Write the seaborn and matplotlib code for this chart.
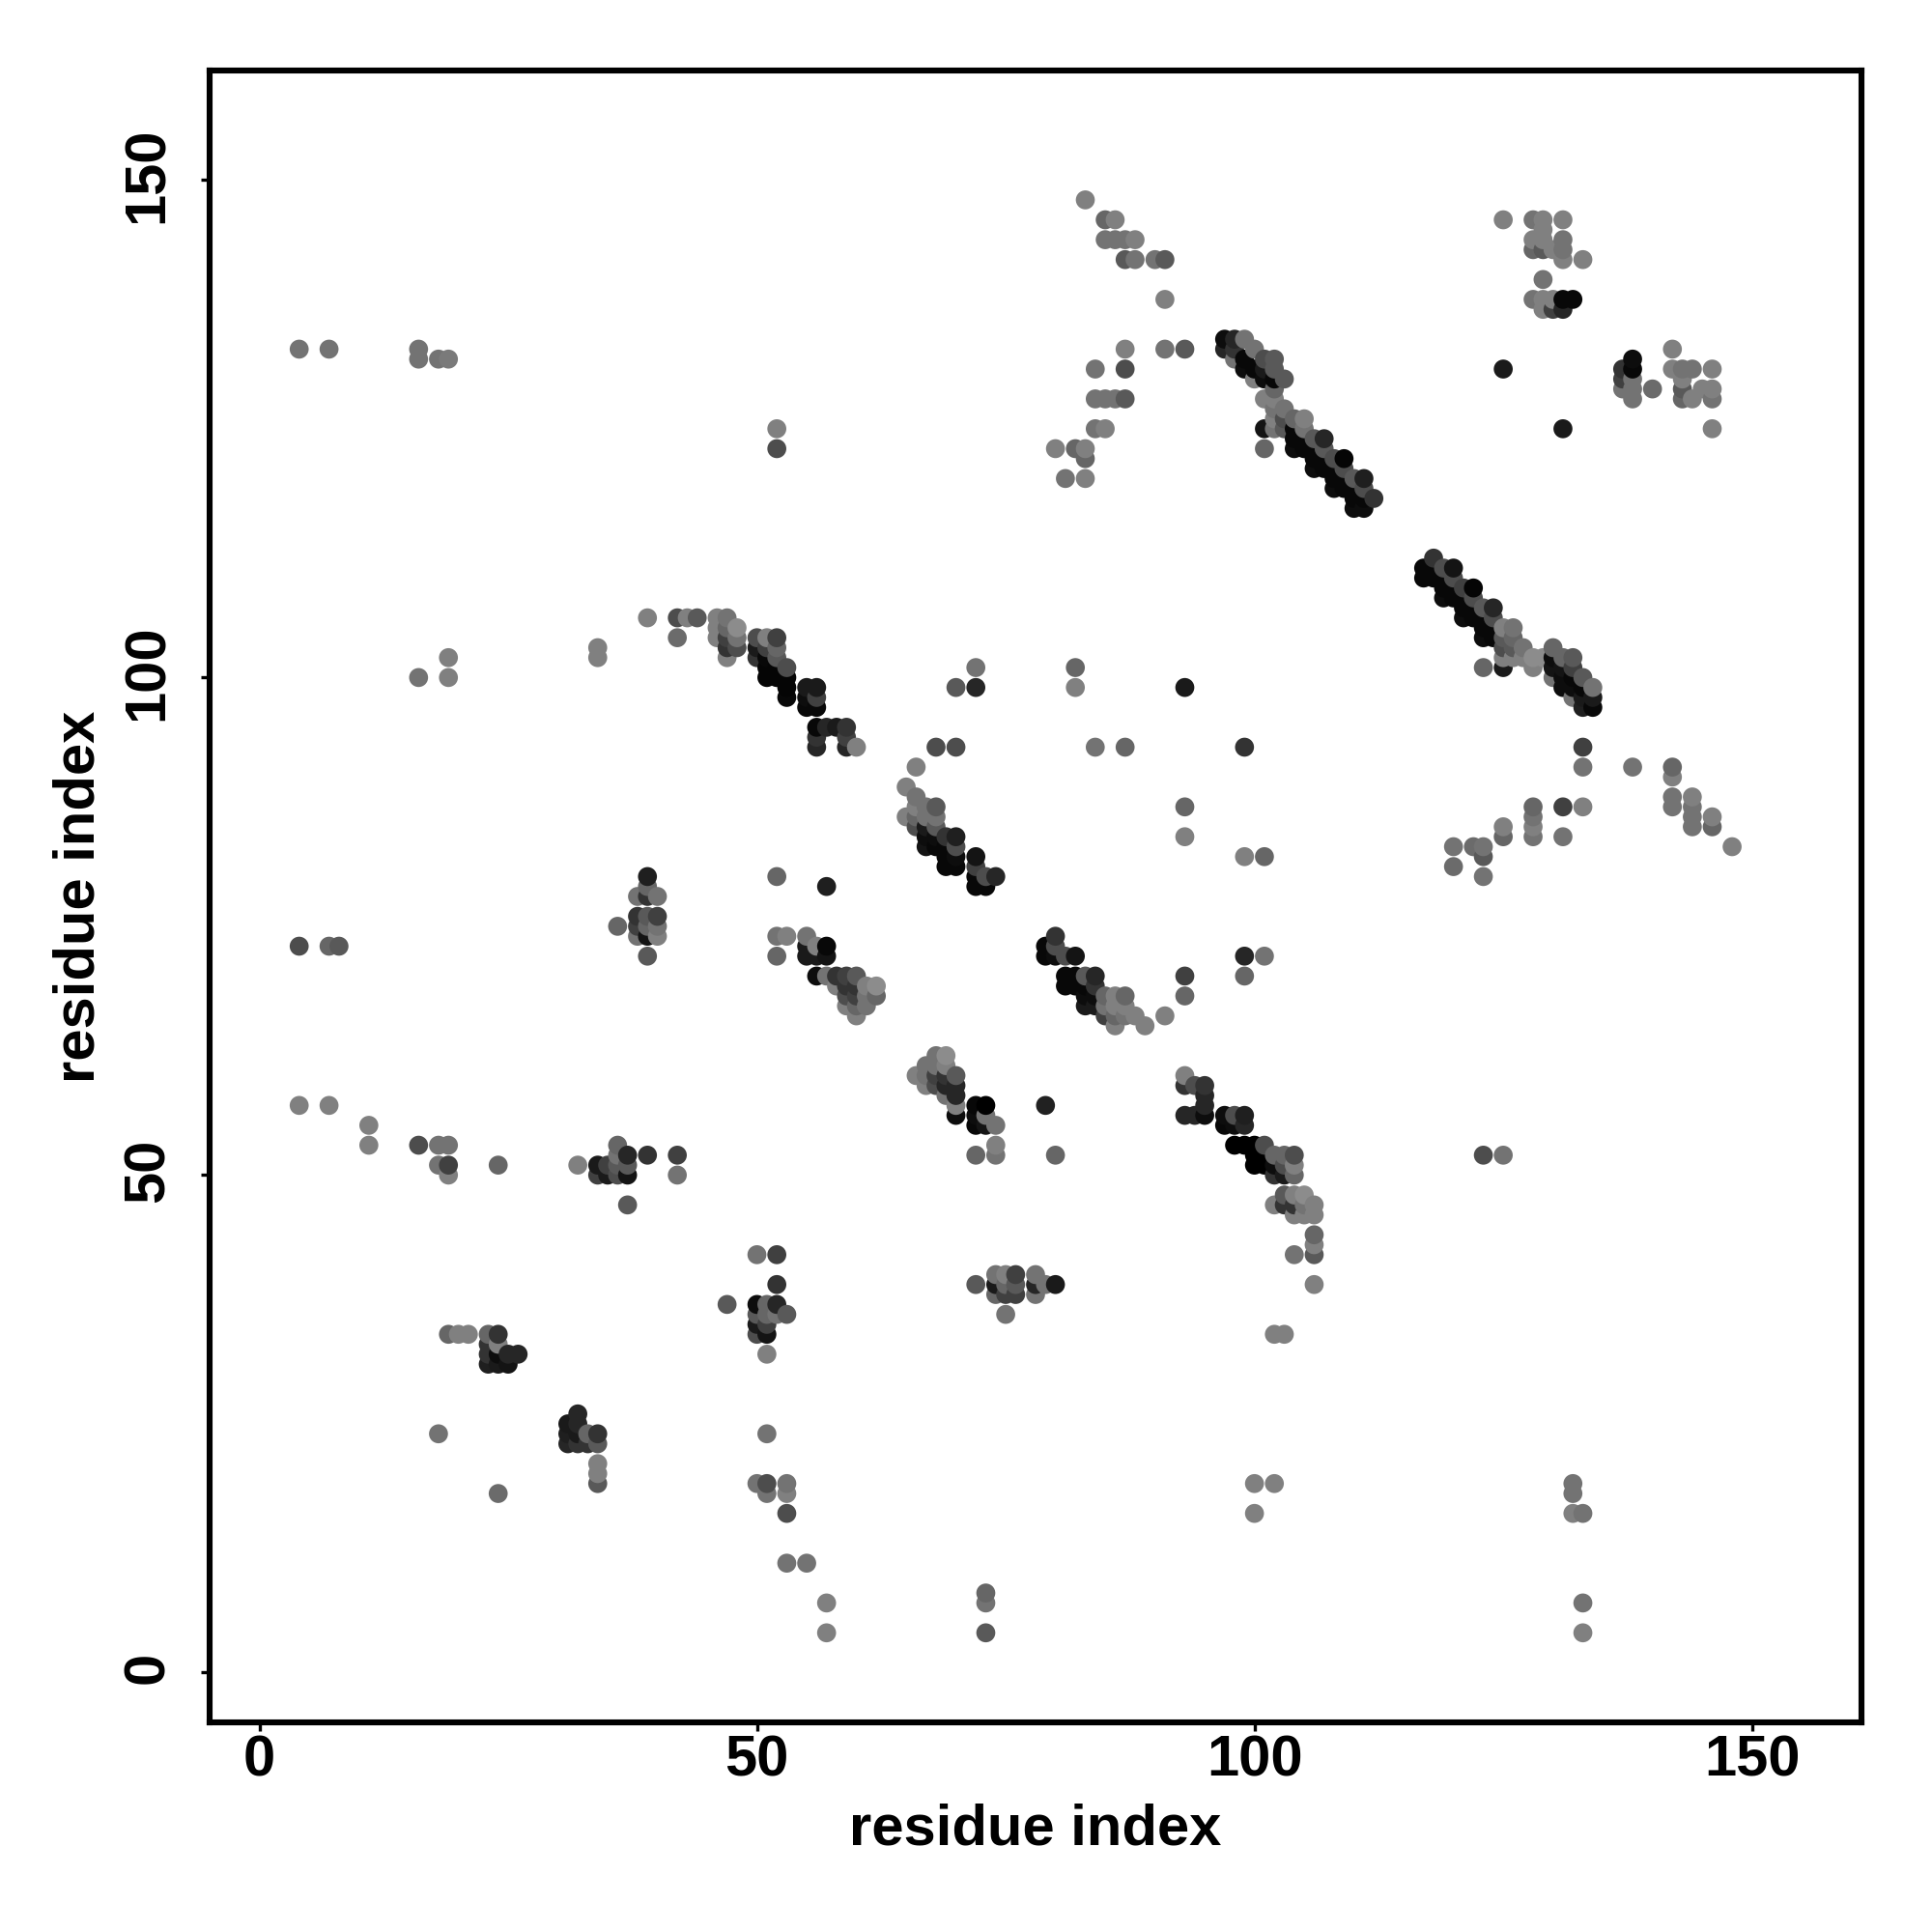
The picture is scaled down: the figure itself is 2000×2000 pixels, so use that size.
import matplotlib
matplotlib.use("Agg")
import matplotlib.pyplot as plt
from matplotlib.transforms import ScaledTranslation
import pandas as pd
import seaborn as sns

# (residue i, residue j, shade)
low_left = [
 (4,133,.45),(7,133,.45),(16,133,.45),(16,132,.45),(18,132,.45),(19,132,.48),
 (4,73,.3),(7,73,.4),(8,73,.35),(4,57,.5),(7,57,.5),(11,55,.5),(11,53,.5),
 (16,53,.3),(18,53,.45),(19,53,.45),(18,51,.45),(19,51,.25),(19,50,.5),(24,51,.4),
 (16,100,.45),(19,102,.5),(19,100,.5),
 (19,34,.4),(20,34,.5),(21,34,.5),(23,34,.4),(24,34,.2),(23,33,.2),(24,33,.5),
 (23,32,.2),(24,32,.05),(25,32,.15),(26,32,.15),(23,31,.12),(24,31,.1),(25,31,.08),
 (18,24,.45),(24,18,.42),
 (32,26,.15),(31,25,.1),(32,25,.15),(31,24,.12),(32,24,.1),(33,24,.4),(34,24,.2),
 (31,23,.15),(32,23,.2),(33,23,.2),(34,23,.35),(34,21,.5),(34,20,.5),(34,19,.35),
]
cluster_50 = [
 (32,51,.5),(34,51,.1),(35,51,.25),(36,53,.4),(36,52,.45),(37,52,.15),(36,51,.35),(37,51,.35),
 (34,50,.25),(35,50,.1),(36,50,.3),(37,50,.08),(39,52,.2),(42,52,.25),(42,50,.45),(37,47,.35),
 (39,80,.12),(39,79,.4),(38,78,.45),(39,78,.2),(40,78,.45),(38,76,.2),(39,76,.35),(40,76,.25),
 (38,75,.25),(39,75,.4),(40,75,.45),(36,75,.4),(38,74,.45),(39,74,.08),(40,74,.5),(39,72,.35),
 (50,42,.45),(52,42,.25),(52,39,.2),(47,37,.35),(50,37,.05),(51,37,.4),(52,37,.15),
 (50,36,.35),(51,36,.4),(52,36,.45),(53,36,.35),(50,35,.1),(51,35,.25),(50,34,.3),(51,34,.08),(51,32,.5),
 (51,24,.45),(50,19,.45),(51,19,.3),(51,18,.45),(53,19,.45),(53,18,.5),(53,16,.3),(53,11,.45),
 (55,11,.45),(57,7,.5),(57,4,.5),(73,8,.4),(73,7,.45),(73,4,.35),
 (100,19,.5),(102,19,.5),(100,16,.5),(132,19,.45),(132,18,.45),(132,16,.5),(133,16,.45),(133,7,.45),(133,4,.5),
]
strand_105 = [
 (34,103,.5),(34,102,.5),(39,106,.5),(42,106,.3),(43,106,.5),(44,106,.35),(42,104,.42),
 (46,106,.5),(47,106,.45),(46,105,.5),(46,104,.5),(47,105,.4),(47,104,.25),(47,103,.2),(47,102,.5),
 (48,105,.55),(48,104,.45),(48,103,.3),
 (50,104,.3),(51,104,.5),(52,104,.25),(50,103,.1),(51,103,.25),(52,103,.4),
 (50,102,.2),(51,102,.03),(52,102,.35),(51,101,.02),(52,101,.02),(53,101,.3),
 (51,100,.02),(52,100,.02),(53,100,.02),(53,99,.02),(53,98,.03),
 (55,99,.1),(56,99,.1),(55,98,.05),(56,98,.25),(55,97,.03),(56,97,.03),
 (56,95,.03),(57,95,.15),(58,95,.1),(59,95,.2),(56,94,.2),(56,93,.15),(59,94,.25),(59,93,.15),(60,93,.5),
]
strand_85 = [
 (68,93,.3),(70,93,.3),(84,93,.45),(87,93,.4),(72,101,.45),(70,99,.35),(72,99,.15),
 (82,101,.4),(82,99,.5),(66,91,.5),(65,89,.5),(66,88,.45),(68,87,.35),(67,87,.45),(66,87,.5),
 (65,86,.5),(66,86,.4),(67,86,.45),(68,86,.45),(66,85,.3),(67,85,.1),(68,85,.35),
 (67,84,.05),(68,84,.05),(69,84,.2),(70,84,.12),(67,83,.08),(68,83,.03),(69,83,.03),(70,83,.3),
 (69,82,.03),(70,82,.05),(69,81,.03),(70,81,.03),(72,82,.08),(72,81,.25),(73,80,.3),(74,80,.15),
 (72,80,.03),(72,79,.03),(73,79,.03),(52,80,.4),(57,79,.12),
]
strand_70 = [
 (52,74,.45),(53,74,.5),(55,74,.45),(52,72,.4),(55,73,.1),(56,73,.5),(57,73,.03),
 (55,72,.1),(56,72,.1),(57,72,.08),(56,70,.05),(57,70,.45),(58,70,.2),(59,70,.25),(60,70,.35),
 (58,69,.5),(59,69,.2),(60,69,.2),(61,69,.5),(62,69,.55),(59,68,.3),(60,68,.25),(61,68,.45),(62,68,.4),
 (59,67,.5),(60,67,.4),(61,67,.45),(60,66,.5),
 (80,74,.2),(79,73,.03),(80,73,.3),(79,72,.03),(80,72,.05),(81,72,.3),(82,72,.08),
 (81,70,.03),(82,70,.03),(83,70,.35),(84,70,.15),(81,69,.03),(82,69,.03),(83,69,.03),(84,69,.2),
 (83,68,.05),(84,68,.05),(85,68,.4),(86,68,.5),(87,68,.4),(83,67,.1),(84,67,.1),(85,67,.45),(86,67,.5),(87,67,.5),
 (85,66,.25),(86,66,.4),(87,66,.45),(88,66,.5),(86,65,.5),(89,65,.5),(91,66,.5),
 (93,99,.1),(93,87,.4),(93,84,.5),(93,70,.25),(93,68,.4),(99,93,.2),(99,82,.5),(101,82,.4),
 (99,72,.15),(101,72,.45),(99,70,.4),
]
strand_58 = [
 (68,62,.45),(69,62,.55),(67,61,.45),(68,61,.45),(69,61,.5),(66,60,.5),(67,60,.45),(68,60,.25),(69,60,.2),(70,60,.35),
 (67,59,.5),(68,59,.3),(69,59,.15),(70,59,.15),(69,58,.45),(70,58,.15),(70,57,.5),(70,56,.05),
 (72,57,.03),(73,57,.0),(72,56,.05),(73,56,.45),(72,55,.03),(73,55,.08),(74,55,.45),
 (72,52,.4),(74,53,.5),(74,52,.45),(79,57,.13),(80,52,.4),
 (72,39,.35),(74,40,.45),(75,40,.5),(76,40,.25),(78,40,.45),(74,39,.1),(75,39,.4),(76,39,.35),(78,39,.15),(79,39,.45),(80,39,.1),
 (74,38,.4),(75,38,.25),(76,38,.25),(78,38,.45),(75,36,.45),
 (93,60,.5),(93,59,.2),(94,59,.3),(95,59,.2),(95,58,.15),(95,57,.15),(93,56,.15),(94,56,.15),(95,56,.05),
 (97,56,.05),(98,56,.3),(99,56,.12),(97,55,.03),(98,55,.05),(99,55,.15),
 (98,53,.0),(99,53,.0),(100,53,.0),(101,53,.3),(100,52,.0),(101,52,.0),(102,52,.4),(103,52,.4),(104,52,.3),
 (100,51,.0),(101,51,.0),(102,51,.05),(103,51,.3),(104,51,.5),(102,50,.2),(103,50,.1),(104,50,.4),
 (103,48,.35),(104,48,.5),(105,48,.55),(102,47,.5),(103,47,.2),(104,47,.2),(105,47,.45),(106,47,.5),
 (104,46,.5),(105,46,.5),(106,46,.5),(106,44,.4),(106,43,.5),(104,42,.45),(106,42,.35),(106,39,.5),
 (102,34,.5),(103,34,.5),(123,52,.3),(125,52,.45),
]
strand_125 = [
 (97,134,.05),(98,134,.15),(99,134,.45),(97,133,.15),(98,133,.2),(100,133,.45),(98,132,.45),(99,132,.03),(101,132,.3),(102,132,.35),
 (99,131,.05),(100,131,.03),(101,131,.1),(102,131,.35),(103,130,.35),(100,130,.5),(101,130,.05),(102,130,.03),(102,129,.4),
 (101,128,.5),(102,128,.5),(103,127,.45),(102,127,.45),(102,126,.5),(103,126,.3),(104,126,.4),(105,126,.5),
 (101,125,.08),(102,125,.45),(103,125,.35),(104,125,.03),(105,125,.45),(101,123,.4),
 (104,124,.03),(105,124,.03),(106,124,.35),(107,124,.15),(104,123,.05),(105,123,.03),(106,123,.03),(107,123,.35),
 (106,122,.03),(107,122,.03),(108,122,.3),(109,122,.02),(106,121,.05),(107,121,.03),(108,121,.03),(109,121,.3),
 (108,120,.03),(109,120,.03),(110,120,.35),(111,120,.12),(108,119,.05),(109,119,.03),(110,119,.03),(111,119,.3),
 (110,118,.03),(111,118,.03),(112,118,.2),(110,117,.05),(111,117,.05),
 (52,125,.5),(52,123,.3),
]
strand_105_right = [
 (118,112,.2),(117,111,.03),(118,111,.03),(119,111,.3),(120,111,.08),(117,110,.03),(118,110,.03),(119,110,.03),(120,110,.3),
 (119,109,.03),(120,109,.03),(121,109,.25),(122,109,.02),(119,108,.05),(120,108,.03),(121,108,.03),(122,108,.3),
 (121,107,.03),(122,107,.03),(123,107,.35),(124,107,.15),(121,106,.05),(122,106,.03),(123,106,.03),(124,106,.3),
 (123,105,.03),(124,105,.03),(125,105,.5),(126,105,.45),(123,104,.05),(124,104,.03),(125,104,.35),(126,104,.4),
 (125,103,.3),(126,103,.35),(127,103,.45),(125,102,.5),(126,102,.5),(127,102,.5),(128,102,.55),(129,102,.55),(130,103,.4),
 (131,102,.4),(132,102,.35),(130,102,.05),(125,101,.1),(123,101,.4),(128,101,.5),(130,101,.08),(131,101,.08),(132,101,.25),
 (130,100,.45),(131,100,.05),(132,100,.03),(133,100,.35),(131,99,.05),(132,99,.05),(133,99,.03),(134,99,.45),
 (132,98,.45),(133,98,.1),(134,98,.1),(133,97,.12),(134,97,.03),
]
lower_right = [
 (133,93,.25),(133,91,.45),(138,91,.45),(142,91,.4),(142,90,.5),(142,88,.45),(142,87,.45),
 (144,88,.5),(144,87,.45),(144,86,.45),(144,85,.45),(146,86,.5),(146,85,.4),(148,83,.5),
 (128,87,.4),(128,86,.45),(128,85,.5),(128,84,.45),(131,87,.25),(133,87,.5),(131,84,.45),
 (125,85,.5),(125,84,.4),(120,83,.45),(122,83,.42),(123,83,.45),(123,82,.35),(120,81,.42),(123,80,.45),
]
upper_right = [
 (125,146,.5),(128,146,.45),(129,146,.5),(131,146,.5),(129,145,.5),(128,144,.5),(129,144,.5),(131,144,.45),
 (128,143,.4),(129,143,.35),(130,143,.5),(131,143,.45),(131,142,.5),(133,142,.5),(129,140,.45),
 (128,138,.45),(129,138,.5),(130,138,.5),(131,138,.03),(132,138,.03),(129,137,.5),(130,137,.25),(131,137,.15),
 (125,131,.1),(131,125,.1),(146,125,.5),(142,133,.5),(138,132,.05),(137,131,.2),(138,131,.03),
 (137,130,.25),(138,130,.45),(137,129,.45),(138,129,.45),(138,128,.45),(140,129,.42),
 (142,131,.5),(143,131,.45),(144,131,.45),(146,131,.5),(143,130,.5),(143,129,.35),(145,129,.5),(146,129,.5),
 (143,128,.4),(144,128,.5),(146,128,.45),
]
upper_middle = [
 (83,148,.5),(85,146,.4),(86,146,.5),(85,144,.45),(86,144,.45),(87,144,.45),(88,144,.5),(87,142,.35),(88,142,.45),
 (90,142,.45),(91,142,.35),(91,138,.5),(91,133,.45),(93,133,.35),(87,133,.5),(87,131,.3),(84,131,.45),
 (84,128,.45),(85,128,.45),(86,128,.45),(87,128,.35),(84,125,.45),(85,125,.5),(80,123,.5),(82,123,.4),(83,123,.5),
 (83,122,.4),(81,120,.45),(83,120,.5),
]
tick_positions = [0, 50, 100, 150]
axis_label = "residue index"

rows = (low_left + cluster_50 + strand_105 + strand_85 + strand_70 + strand_58
        + strand_125 + strand_105_right + lower_right + upper_right + upper_middle)
df = pd.DataFrame(rows, columns=["i", "j", "shade"]).sort_values(["i", "j"])

sns.set_theme(style="white")
plt.rcParams["font.family"] = ["Liberation Sans", "DejaVu Sans"]
fig = plt.figure(figsize=(10, 10), dpi=200)
ax = fig.add_axes([217/2000, 1-1783/2000, (1927-217)/2000, (1783-73)/2000])
sns.scatterplot(data=df, x="i", y="j", c=[str(v) for v in df["shade"]],
                s=50, linewidth=0, ax=ax, zorder=3)
ax.set_xlim(-5, 161)
ax.set_ylim(-5, 161)
ax.set_xticks(tick_positions)
ax.set_yticks(tick_positions)
for s in ax.spines.values():
    s.set_linewidth(2.2)
    s.set_color("black")
ax.tick_params(axis="both", which="major", length=3.2, width=1.2, color="black",
               left=True, bottom=True, labelsize=21.5, labelcolor="black")
ax.tick_params(axis="x", pad=1.2)
ax.tick_params(axis="y", pad=9.7)
shift_up = ScaledTranslation(0, 5/200, fig.dpi_scale_trans)
for t in ax.get_xticklabels():
    t.set_fontweight("bold")
for t in ax.get_yticklabels():
    t.set_fontweight("bold")
    t.set_rotation(90)
    t.set_va("center")
    t.set_transform(t.get_transform() + shift_up)
ax.set_xlabel(axis_label, fontsize=21.5, fontweight="bold", color="black", labelpad=6)
ax.set_ylabel(axis_label, fontsize=21.5, fontweight="bold", color="black", labelpad=6)
fig.savefig("out.png", dpi=200, facecolor="white")
